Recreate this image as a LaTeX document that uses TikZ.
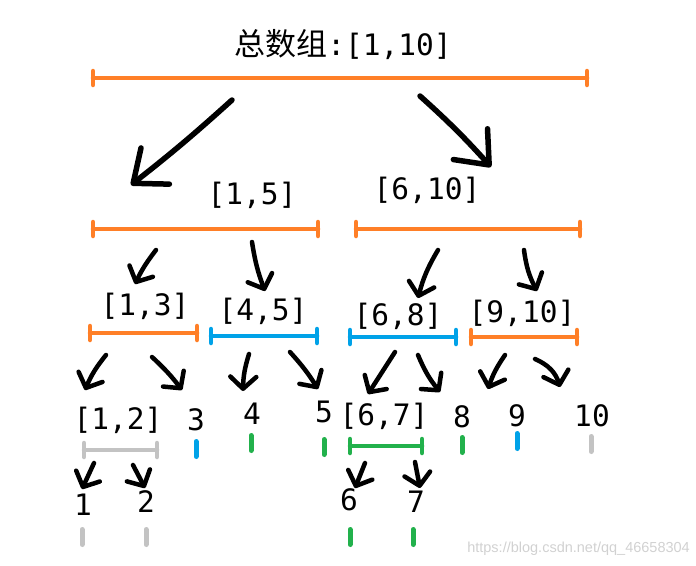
\documentclass[tikz,border=0pt]{standalone}
\usepackage{fontspec}
\setmonofont{DejaVu Sans Mono}
\newfontfamily\cjk{Noto Sans CJK SC}
\newfontfamily\wmfont{Liberation Sans}
\usetikzlibrary{arrows.meta}
\definecolor{segorange}{HTML}{FF7F27}
\definecolor{segblue}{HTML}{00A2E8}
\definecolor{seggreen}{HTML}{22B14C}
\definecolor{seggray}{HTML}{C3C3C3}
\newcommand\BarSeg[4]{%
  \draw[barline,#1] (#2,#4) -- (#3,#4);
  \draw[bartick,#1] (#2,#4-7) -- (#2,#4+7);
  \draw[bartick,#1] (#3,#4-7) -- (#3,#4+7);}
\newcommand\OneTick[3]{\draw[onetick,#1] (#2,#3-7.5) -- (#2,#3+7.5);}
\begin{document}
\begin{tikzpicture}[x=1pt,y=-1pt,
  lbl/.style={font=\ttfamily\fontsize{29.5}{32}\selectfont, inner sep=0pt},
  barline/.style={line width=4.5pt, line cap=round},
  bartick/.style={line width=4.5pt, line cap=round},
  onetick/.style={line width=5pt, line cap=round},
  arr/.style={line width=4.5pt, line cap=round,
    -{Straight Barb[length=12pt,width=26pt,round]}},
  bigarr/.style={line width=5.5pt, line cap=round,
    -{Straight Barb[length=28pt,width=46pt,round]}}]
\useasboundingbox (0,0) rectangle (696,565);
% title
\node[lbl] (title) at (343,45) {{\cjk\fontsize{31}{33}\selectfont 总数组}:[1,10]};
\BarSeg{segorange}{93}{587}{78}
% big arrows
\coordinate (bl1) at (232,100); \coordinate (bl2) at (131,185);
\coordinate (br1) at (420,96);  \coordinate (br2) at (491,167);
\draw[bigarr] (bl1) to[bend left=2] (bl2);
\draw[bigarr] (br1) to[bend left=3] (br2);
% level 1
\node[lbl] (n15) at (252,195) {[1,5]};
\node[lbl] (n610) at (427,190) {[6,10]};
\BarSeg{segorange}{93}{318}{229}
\BarSeg{segorange}{356}{580}{229}
% level 2 arrows
\coordinate (a1s) at (156,250); \coordinate (a1e) at (135,284);
\coordinate (a2s) at (252,242); \coordinate (a2e) at (265,291);
\coordinate (a3s) at (438,250); \coordinate (a3e) at (418,298);
\coordinate (a4s) at (524,250); \coordinate (a4e) at (537,291);
\draw[arr] (a1s) to[bend right=6] (a1e);
\draw[arr] (a2s) to[bend right=6] (a2e);
\draw[arr] (a3s) to[bend right=8] (a3e);
\draw[arr] (a4s) to[bend right=10] (a4e);
% level 2
\node[lbl] (n13) at (145,306) {[1,3]};
\node[lbl] (n45) at (263,311) {[4,5]};
\node[lbl] (n68) at (398,316) {[6,8]};
\node[lbl] (n910) at (522,313) {[9,10]};
\BarSeg{segorange}{90}{197}{333}
\BarSeg{segblue}{211}{317}{336}
\BarSeg{segblue}{350}{456}{337}
\BarSeg{segorange}{471}{577}{337}
% level 3 arrows
\coordinate (b1s) at (106,355); \coordinate (b1e) at (85,390);
\coordinate (b2s) at (152,357); \coordinate (b2e) at (182,390);
\coordinate (b3s) at (249,354); \coordinate (b3e) at (243,391);
\coordinate (b4s) at (290,352); \coordinate (b4e) at (318,389);
\coordinate (b5s) at (395,352); \coordinate (b5e) at (368,394);
\coordinate (b6s) at (418,355); \coordinate (b6e) at (440,392);
\coordinate (b7s) at (505,355); \coordinate (b7e) at (488,389);
\coordinate (b8s) at (535,359); \coordinate (b8e) at (560,387);
\draw[arr] (b1s) to[bend right=8] (b1e);
\draw[arr] (b2s) to[bend left=5] (b2e);
\draw[arr] (b3s) to[bend right=8] (b3e);
\draw[arr] (b4s) to[bend left=5] (b4e);
\draw[arr] (b5s) to (b5e);
\draw[arr] (b6s) to[bend right=8] (b6e);
\draw[arr] (b7s) to[bend right=8] (b7e);
\draw[arr] (b8s) to[bend left=25] (b8e);
% level 3
\node[lbl] (n12) at (118,420) {[1,2]};
\node[lbl] (n3) at (196,420) {3};
\node[lbl] (n4) at (252,414) {4};
\node[lbl] (n5) at (324,412) {5};
\node[lbl] (n67) at (384,416) {[6,7]};
\node[lbl] (n8) at (462,417) {8};
\node[lbl] (n9) at (517,416) {9};
\node[lbl] (n10) at (592,416) {10};
\BarSeg{seggray}{84}{157}{450}
\OneTick{segblue}{196}{449}
\OneTick{seggreen}{251}{443}
\OneTick{seggreen}{324}{447}
\BarSeg{seggreen}{350}{422}{446}
\OneTick{seggreen}{462}{445}
\OneTick{segblue}{517}{441}
\OneTick{seggray}{591}{444}
% level 4 arrows
\coordinate (c1s) at (94,463);  \coordinate (c1e) at (82,489);
\coordinate (c2s) at (133,465); \coordinate (c2e) at (145,488);
\coordinate (c3s) at (365,463); \coordinate (c3e) at (355,488);
\coordinate (c4s) at (415,462); \coordinate (c4e) at (420,488);
\draw[arr] (c1s) to (c1e);
\draw[arr] (c2s) to (c2e);
\draw[arr] (c3s) to (c3e);
\draw[arr] (c4s) to (c4e);
% level 4
\node[lbl] (n1) at (83,505) {1};
\node[lbl] (n2) at (146,502) {2};
\node[lbl] (n6) at (349,500) {6};
\node[lbl] (n7) at (416,502) {7};
\OneTick{seggray}{82}{537}
\OneTick{seggray}{146}{537}
\OneTick{seggreen}{350}{537}
\OneTick{seggreen}{413}{537}
% watermark
\node[font=\wmfont\fontsize{14.5}{16}\selectfont, text=black!18, anchor=east, inner sep=0pt] (wm) at (690,549) {https://blog.csdn.net/qq\_46658304};
\end{tikzpicture}
\end{document}
